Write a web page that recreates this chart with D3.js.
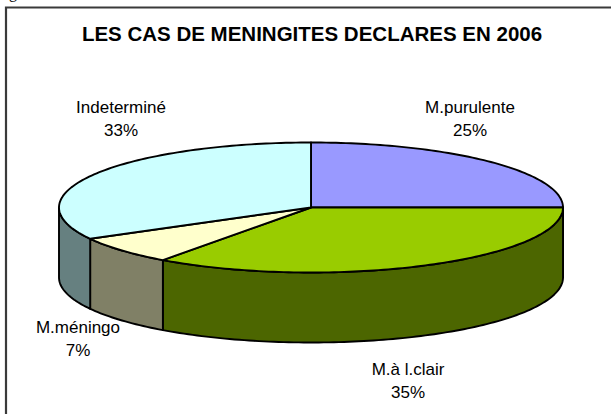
<!DOCTYPE html>
<html>
<head>
<meta charset="utf-8">
<script src="https://cdn.jsdelivr.net/npm/d3@7"></script>
<style>
  body { margin: 0; background: #fff; }
  svg { display: block; }
</style>
</head>
<body>
<div id="chart"></div>
<script>
// data
var categories = ["M.purulente", "M.à l.clair", "M.méningo", "Indeterminé"];
var values = [25, 35, 7, 33];
var topColors = ["#9999ff", "#99cc00", "#ffffcc", "#ccffff"];
var sideColors = ["#4c4c80", "#4c6600", "#808066", "#668080"];

// label anchors (centre x, first baseline y)
var labelPos = [[470, 113], [408, 375], [78, 333], [121, 113]];

var W = 611, H = 414;
var cx = 311, cy = 207.5, rx = 252, ry = 65, depth = 70;

var svg = d3.select("#chart").append("svg")
    .attr("width", W)
    .attr("height", H);

// frame of the chart area
svg.append("path")
    .attr("d", "M6,420 L6,7.5 L620,7.5")
    .attr("fill", "none")
    .attr("stroke", "#3a3a3a")
    .attr("stroke-width", 2.2);

// remnant of the caption above the frame
svg.append("text")
    .attr("x", 9)
    .attr("y", -2)
    .attr("font-family", "Liberation Serif, serif")
    .attr("font-size", "16px")
    .attr("fill", "#000")
    .text("g");

svg.append("text")
    .attr("x", 312)
    .attr("y", 41)
    .attr("text-anchor", "middle")
    .attr("font-family", "Liberation Sans, Arial, sans-serif")
    .attr("font-weight", "bold")
    .attr("font-size", "20.5px")
    .attr("fill", "#000")
    .text("LES CAS DE MENINGITES DECLARES EN 2006");

var pie = d3.pie().sort(null).startAngle(0).endAngle(2 * Math.PI);
var arcs = pie(values);

// angle measured clockwise from 12 o'clock
function pt(a, dy) {
  return [cx + rx * Math.sin(a), cy - ry * Math.cos(a) + (dy || 0)];
}

function arcPoints(a0, a1, dy) {
  var n = Math.max(2, Math.ceil(Math.abs(a1 - a0) / 0.02));
  return d3.range(n + 1).map(function(i) {
    return pt(a0 + (a1 - a0) * i / n, dy);
  });
}

var line = d3.line();

// side walls (front half only)
var sides = svg.append("g");
arcs.forEach(function(d, i) {
  var a0 = Math.max(d.startAngle, Math.PI / 2);
  var a1 = Math.min(d.endAngle, 3 * Math.PI / 2);
  if (a1 <= a0) return;
  var upper = arcPoints(a0, a1, 0);
  var lower = arcPoints(a1, a0, depth);
  sides.append("path")
      .attr("d", line(upper.concat(lower)) + "Z")
      .attr("fill", sideColors[i])
      .attr("stroke", "#000")
      .attr("stroke-width", 1.9)
      .attr("stroke-linejoin", "round");
});

// top faces
var tops = svg.append("g");
arcs.forEach(function(d, i) {
  var pts = [[cx, cy]].concat(arcPoints(d.startAngle, d.endAngle, 0));
  tops.append("path")
      .attr("d", line(pts) + "Z")
      .attr("fill", topColors[i])
      .attr("stroke", "#000")
      .attr("stroke-width", 1.9)
      .attr("stroke-linejoin", "round");
});

// labels
var fmt = d3.format(".0%");
var total = d3.sum(values);
categories.forEach(function(c, i) {
  var t = svg.append("text")
      .attr("text-anchor", "middle")
      .attr("font-family", "Liberation Sans, Arial, sans-serif")
      .attr("font-size", "17px")
      .attr("fill", "#000");
  t.append("tspan")
      .attr("x", labelPos[i][0])
      .attr("y", labelPos[i][1])
      .text(c);
  t.append("tspan")
      .attr("x", labelPos[i][0])
      .attr("y", labelPos[i][1] + 23)
      .text(fmt(values[i] / total));
});
</script>
</body>
</html>
